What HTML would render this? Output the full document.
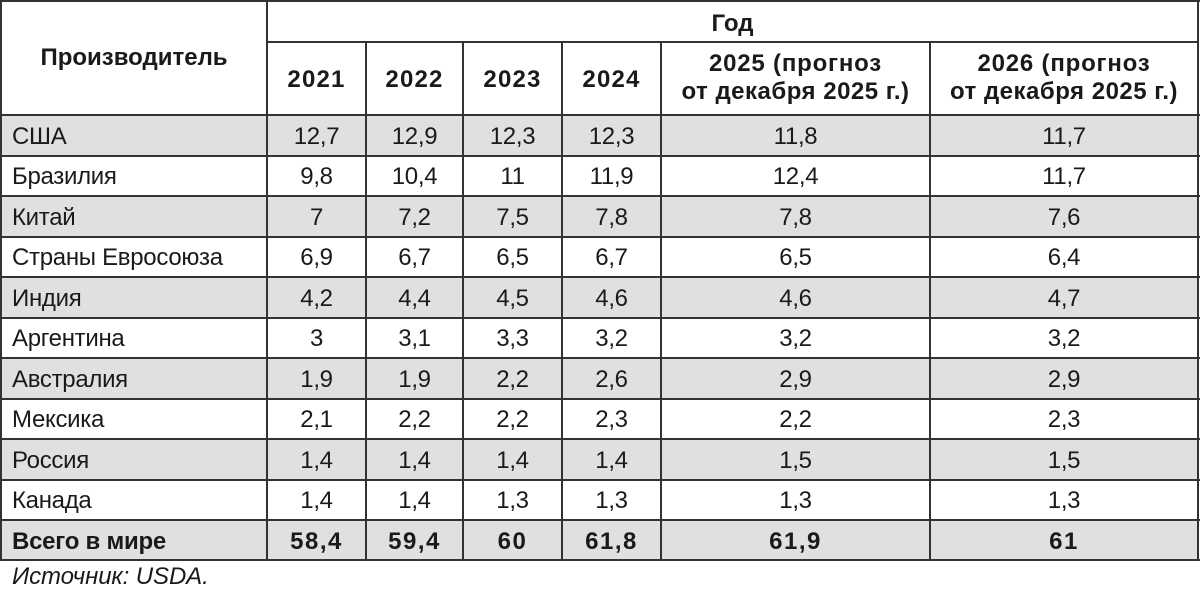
<!DOCTYPE html>
<html>
<head>
<meta charset="utf-8">
<style>
html,body{margin:0;padding:0;background:#fff;}
body{width:1200px;height:592px;position:relative;overflow:hidden;font-family:"Liberation Sans",Arial,sans-serif;color:#1a1a1a;}
.bg{position:absolute;left:1px;width:1197px;background:#e0e0e0;}
.h{position:absolute;height:2px;background:#333;}
.v{position:absolute;width:2px;background:#333;}
.t{position:absolute;font-size:24px;line-height:24px;white-space:nowrap;}
.row{position:absolute;left:0;height:40px;display:flex;font-size:24px;line-height:24px;white-space:nowrap;letter-spacing:-0.3px;}
.row div{padding-top:9.7px;text-align:center;box-sizing:border-box;}
.row div.n{text-align:left;padding-left:12px;}
.c0{width:267px;}
.c1{width:99px;}
.c2{width:97px;}
.c3{width:99px;}
.c4{width:99px;}
.c5{width:269px;}
.c6{width:268px;}
.b{font-weight:bold;}
.row.b div{letter-spacing:1.5px;}
.row.b div.n{letter-spacing:-0.25px;}
</style>
</head>
<body>
<!-- gray row fills -->
<div class="bg" style="top:115px;height:40.5px;"></div>
<div class="bg" style="top:196px;height:40.5px;"></div>
<div class="bg" style="top:277px;height:40.5px;"></div>
<div class="bg" style="top:358px;height:40.5px;"></div>
<div class="bg" style="top:439px;height:40.5px;"></div>
<div class="bg" style="top:520px;height:40px;"></div>

<!-- horizontal lines -->
<div class="h" style="left:0;width:1200px;top:0px;"></div>
<div class="h" style="left:266px;width:933px;top:40.5px;"></div>
<div class="h" style="left:0;width:1200px;top:114px;"></div>
<div class="h" style="left:0;width:1200px;top:154.5px;"></div>
<div class="h" style="left:0;width:1200px;top:195px;"></div>
<div class="h" style="left:0;width:1200px;top:235.5px;"></div>
<div class="h" style="left:0;width:1200px;top:276px;"></div>
<div class="h" style="left:0;width:1200px;top:316.5px;"></div>
<div class="h" style="left:0;width:1200px;top:357px;"></div>
<div class="h" style="left:0;width:1200px;top:397.5px;"></div>
<div class="h" style="left:0;width:1200px;top:438px;"></div>
<div class="h" style="left:0;width:1200px;top:478.5px;"></div>
<div class="h" style="left:0;width:1200px;top:519px;"></div>
<div class="h" style="left:0;width:1200px;top:559px;"></div>

<!-- vertical lines -->
<div class="v" style="left:0;top:0;height:561px;"></div>
<div class="v" style="left:266px;top:0;height:561px;"></div>
<div class="v" style="left:365px;top:41px;height:520px;"></div>
<div class="v" style="left:462px;top:41px;height:520px;"></div>
<div class="v" style="left:561px;top:41px;height:520px;"></div>
<div class="v" style="left:660px;top:41px;height:520px;"></div>
<div class="v" style="left:929px;top:41px;height:520px;"></div>
<div class="v" style="left:1197px;top:0;height:561px;"></div>

<!-- header -->
<div class="t b" style="left:1px;width:266px;text-align:center;top:46.4px;">Производитель</div>
<div class="t b" style="left:267px;width:931px;text-align:center;top:12.4px;">Год</div>
<div class="t b" style="left:267px;width:99px;text-align:center;top:67.7px;letter-spacing:1.2px;">2021</div>
<div class="t b" style="left:366px;width:97px;text-align:center;top:67.7px;letter-spacing:1.2px;">2022</div>
<div class="t b" style="left:463px;width:99px;text-align:center;top:67.7px;letter-spacing:1.2px;">2023</div>
<div class="t b" style="left:562px;width:99px;text-align:center;top:67.7px;letter-spacing:1.2px;">2024</div>
<div class="t b" style="left:661px;width:269px;text-align:center;top:52.4px;letter-spacing:0.8px;">2025 (прогноз</div>
<div class="t b" style="left:661px;width:269px;text-align:center;top:79.7px;letter-spacing:0.5px;">от декабря 2025 г.)</div>
<div class="t b" style="left:930px;width:268px;text-align:center;top:52.4px;letter-spacing:0.8px;">2026 (прогноз</div>
<div class="t b" style="left:930px;width:268px;text-align:center;top:79.7px;letter-spacing:0.5px;">от декабря 2025 г.)</div>

<!-- data rows -->
<div class="row" style="top:115px;"><div class="c0 n">США</div><div class="c1">12,7</div><div class="c2">12,9</div><div class="c3">12,3</div><div class="c4">12,3</div><div class="c5">11,8</div><div class="c6">11,7</div></div>
<div class="row" style="top:155.5px;"><div class="c0 n">Бразилия</div><div class="c1">9,8</div><div class="c2">10,4</div><div class="c3">11</div><div class="c4">11,9</div><div class="c5">12,4</div><div class="c6">11,7</div></div>
<div class="row" style="top:196px;"><div class="c0 n">Китай</div><div class="c1">7</div><div class="c2">7,2</div><div class="c3">7,5</div><div class="c4">7,8</div><div class="c5">7,8</div><div class="c6">7,6</div></div>
<div class="row" style="top:236.5px;"><div class="c0 n">Страны Евросоюза</div><div class="c1">6,9</div><div class="c2">6,7</div><div class="c3">6,5</div><div class="c4">6,7</div><div class="c5">6,5</div><div class="c6">6,4</div></div>
<div class="row" style="top:277px;"><div class="c0 n">Индия</div><div class="c1">4,2</div><div class="c2">4,4</div><div class="c3">4,5</div><div class="c4">4,6</div><div class="c5">4,6</div><div class="c6">4,7</div></div>
<div class="row" style="top:317.5px;"><div class="c0 n">Аргентина</div><div class="c1">3</div><div class="c2">3,1</div><div class="c3">3,3</div><div class="c4">3,2</div><div class="c5">3,2</div><div class="c6">3,2</div></div>
<div class="row" style="top:358px;"><div class="c0 n">Австралия</div><div class="c1">1,9</div><div class="c2">1,9</div><div class="c3">2,2</div><div class="c4">2,6</div><div class="c5">2,9</div><div class="c6">2,9</div></div>
<div class="row" style="top:398.5px;"><div class="c0 n">Мексика</div><div class="c1">2,1</div><div class="c2">2,2</div><div class="c3">2,2</div><div class="c4">2,3</div><div class="c5">2,2</div><div class="c6">2,3</div></div>
<div class="row" style="top:439px;"><div class="c0 n">Россия</div><div class="c1">1,4</div><div class="c2">1,4</div><div class="c3">1,4</div><div class="c4">1,4</div><div class="c5">1,5</div><div class="c6">1,5</div></div>
<div class="row" style="top:479.5px;"><div class="c0 n">Канада</div><div class="c1">1,4</div><div class="c2">1,4</div><div class="c3">1,3</div><div class="c4">1,3</div><div class="c5">1,3</div><div class="c6">1,3</div></div>
<div class="row b" style="top:520px;"><div class="c0 n">Всего в мире</div><div class="c1">58,4</div><div class="c2">59,4</div><div class="c3">60</div><div class="c4">61,8</div><div class="c5">61,9</div><div class="c6">61</div></div>

<!-- source -->
<div class="t" style="left:12px;top:565.4px;font-style:italic;letter-spacing:-0.1px;">Источник: USDA.</div>
</body>
</html>
